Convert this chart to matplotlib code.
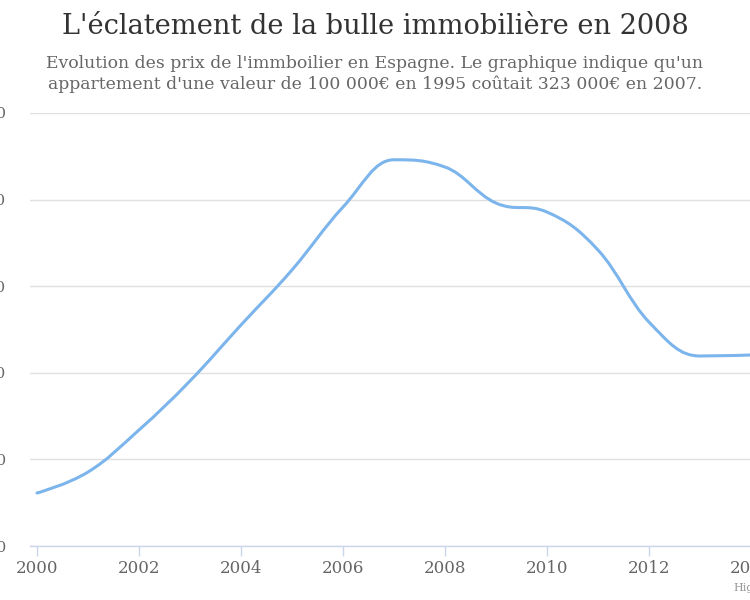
"""Spanish housing bubble line chart (Highcharts-style spline, cropped frame)."""
import matplotlib
matplotlib.use("Agg")
import matplotlib.pyplot as plt
import matplotlib.patches as mpatches
from matplotlib.path import Path

# --- data ---------------------------------------------------------------------
YEARS = [2000, 2001, 2002, 2003, 2004, 2005, 2006, 2007,
         2008, 2009, 2010, 2011, 2012, 2013, 2014]
PRICE_INDEX = [130.6, 142.7, 167.0, 195.3, 227.6, 259.4, 295.7, 323.0,
               318.8, 298.0, 292.8, 270.9, 229.3, 209.7, 210.3]
Y_TICKS = [100, 150, 200, 250, 300, 350]
X_TICKS = [2000, 2002, 2004, 2006, 2008, 2010, 2012, 2014]

TITLE = "L'éclatement de la bulle immobilière en 2008"
SUBTITLE = ("Evolution des prix de l'immboilier en Espagne. Le graphique indique qu'un\n"
            "appartement d'une valeur de 100 000€ en 1995 coûtait 323 000€ en 2007.")

LINE = "#7cb5ec"
GRID = "#e0e0e0"
AXIS = "#ccd6eb"
W, H = 750, 600


def spline_path(xs, ys, smoothing=1.5):
    """Bezier path through the points, same control-point rule as Highcharts."""
    denom = smoothing + 1
    n = len(xs)
    left, right = [None] * n, [None] * n
    for i in range(1, n - 1):
        px, py = xs[i], ys[i]
        lx, ly = xs[i - 1], ys[i - 1]
        nx, ny = xs[i + 1], ys[i + 1]
        lcx, lcy = (smoothing * px + lx) / denom, (smoothing * py + ly) / denom
        rcx, rcy = (smoothing * px + nx) / denom, (smoothing * py + ny) / denom
        corr = (rcy - lcy) * (rcx - px) / (rcx - lcx) + py - rcy
        lcy += corr
        rcy += corr
        if lcy > ly and lcy > py:
            lcy = max(ly, py)
            rcy = 2 * py - lcy
        elif lcy < ly and lcy < py:
            lcy = min(ly, py)
            rcy = 2 * py - lcy
        if rcy > ny and rcy > py:
            rcy = max(ny, py)
            lcy = 2 * py - rcy
        elif rcy < ny and rcy < py:
            rcy = min(ny, py)
            lcy = 2 * py - rcy
        left[i], right[i] = (lcx, lcy), (rcx, rcy)
    verts, codes = [(xs[0], ys[0])], [Path.MOVETO]
    for i in range(1, n):
        c1 = right[i - 1] or (xs[i - 1], ys[i - 1])
        c2 = left[i] or (xs[i], ys[i])
        verts += [c1, c2, (xs[i], ys[i])]
        codes += [Path.CURVE4] * 3
    return Path(verts, codes)


plt.rcParams["font.family"] = "DejaVu Serif"
fig = plt.figure(figsize=(W / 100, H / 100), dpi=100)
fig.patch.set_facecolor("white")

# plot area in pixels: left 30, top 113, bottom 546, runs past the right edge
px_left, px_top, px_bottom, px_right = 30, 113, 546, 765
ax = fig.add_axes([px_left / W, 1 - px_bottom / H,
                   (px_right - px_left) / W, (px_bottom - px_top) / H])
ppy = 51.0  # pixels per year
x0 = 2000 - (37 - px_left) / ppy
ax.set_xlim(x0, x0 + (px_right - px_left) / ppy)
ax.set_ylim(Y_TICKS[0], Y_TICKS[-1])

ax.add_patch(mpatches.PathPatch(spline_path(YEARS, PRICE_INDEX), fill=False,
                                edgecolor=LINE, linewidth=2.2,
                                capstyle="round", joinstyle="round", zorder=3))

ax.set_yticks(Y_TICKS)
ax.set_xticks(X_TICKS)
ax.grid(axis="y", color=GRID, linewidth=1)
ax.set_axisbelow(True)
for s in ("top", "right", "left"):
    ax.spines[s].set_visible(False)
ax.spines["bottom"].set_color(AXIS)
ax.spines["bottom"].set_linewidth(1)
ax.tick_params(axis="y", length=0, pad=17, labelsize=11, labelcolor="#666666")
ax.tick_params(axis="x", length=7, width=1, color=AXIS, pad=3,
               labelsize=12, labelcolor="#666666")

fig.text(0.5, 1 - 27 / H, TITLE, ha="center", va="center",
         fontsize=19.6, color="#333333")
fig.text(0.5, 1 - 74 / H, SUBTITLE, ha="center", va="center",
         fontsize=12.4, color="#666666", linespacing=1.3)
fig.text(733 / W, 1 - 588 / H, "Highcharts.com", ha="left", va="center",
         fontsize=8, color="#999999")

fig.savefig("out.png", dpi=100)
